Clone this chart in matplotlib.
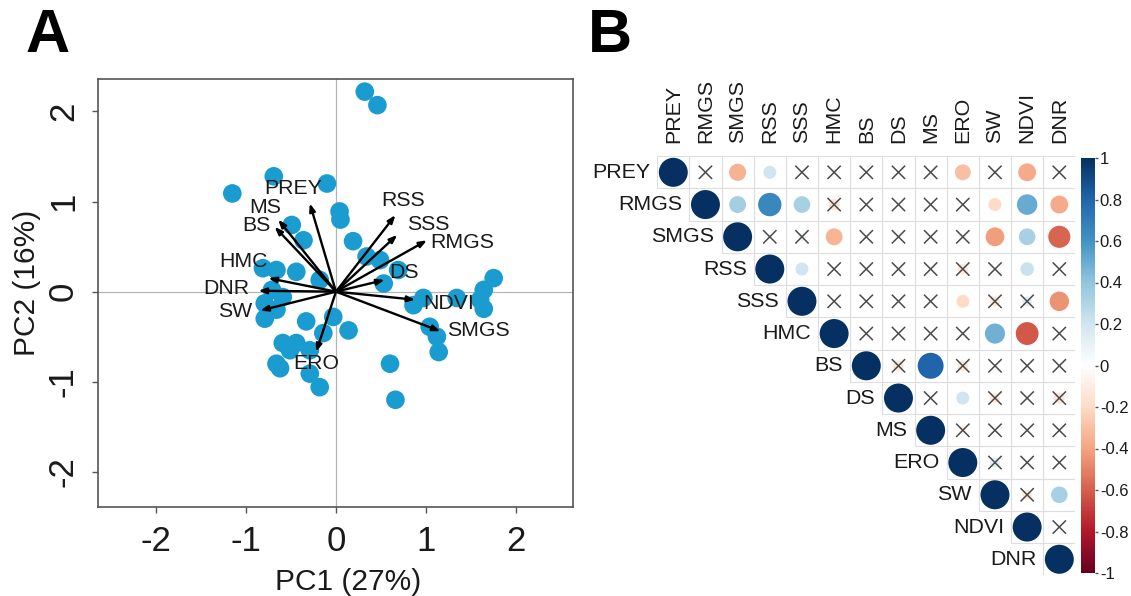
import numpy as np
import matplotlib
matplotlib.use('Agg')
import matplotlib.pyplot as plt
from matplotlib.colors import LinearSegmentedColormap, Normalize
from matplotlib.patches import Circle, Rectangle
from matplotlib.lines import Line2D
import matplotlib.cm as cm

plt.rcParams['font.family'] = ['Liberation Sans', 'DejaVu Sans']
plt.rcParams['axes.unicode_minus'] = False

# ---------------- Panel A data: PCA scores ----------------
pc1 = [0.32, 0.46, -1.15, -0.69, -0.10, 0.04, 0.05, -0.49, -0.36, 0.19,
       0.34, 0.49, 0.69, 0.53, -0.81, -0.66, -0.44, -0.18, -0.71, -0.59,
       -0.79, -0.66, -0.79, 1.75, 1.64, 1.60, 1.64, 1.34, 0.97, 0.86,
       1.04, 1.12, 1.14, -0.03, -0.33, -0.14, 0.14, -0.59, -0.44, -0.29,
       -0.66, -0.62, -0.29, -0.18, 0.60, 0.66, -0.51]
pc2 = [2.22, 2.07, 1.09, 1.28, 1.20, 0.89, 0.80, 0.74, 0.57, 0.56,
       0.39, 0.35, 0.24, 0.09, 0.26, 0.24, 0.22, 0.13, 0.02, -0.06,
       -0.13, -0.20, -0.30, 0.15, 0.02, -0.09, -0.19, -0.07, -0.07, -0.15,
       -0.39, -0.50, -0.67, -0.28, -0.33, -0.46, -0.43, -0.57, -0.57, -0.65,
       -0.80, -0.85, -0.91, -1.06, -0.80, -1.20, -0.65]

# loadings (arrow tips) and label positions
load_names = ['PREY', 'MS', 'BS', 'HMC', 'DNR', 'SW', 'ERO',
              'RSS', 'SSS', 'RMGS', 'DS', 'NDVI', 'SMGS']
load_x = [-0.29, -0.64, -0.68, -0.75, -0.86, -0.84, -0.22,
          0.66, 0.68, 1.01, 0.54, 0.88, 1.16]
load_y = [0.98, 0.80, 0.72, 0.15, 0.01, -0.21, -0.67,
          0.85, 0.63, 0.57, 0.13, -0.09, -0.44]
label_x = [-0.47, -0.78, -0.88, -1.03, -1.22, -1.12, -0.22,
           0.75, 1.02, 1.40, 0.76, 1.25, 1.585]
label_y = [1.15, 0.93, 0.73, 0.34, 0.04, -0.22, -0.80,
           1.01, 0.74, 0.54, 0.21, -0.13, -0.43]

xticks = [-2, -1, 0, 1, 2]
yticks = [-2, -1, 0, 1, 2]

# ---------------- Panel B data: correlation matrix (upper triangle) ----------------
variables = ['PREY', 'RMGS', 'SMGS', 'RSS', 'SSS', 'HMC', 'BS', 'DS',
             'MS', 'ERO', 'SW', 'NDVI', 'DNR']
corr_rows = [
    [1, 0.05, -0.35, 0.20, 0.02, 0.05, 0.0, 0.0, 0.0, -0.30, -0.05, -0.38, 0.0],
    [1, 0.34, 0.65, 0.33, -0.15, 0.0, 0.0, 0.0, 0.0, -0.20, 0.50, -0.38],
    [1, 0.02, 0.08, -0.34, 0.0, 0.0, 0.0, 0.06, -0.42, 0.33, -0.58],
    [1, 0.20, 0.0, 0.0, 0.0, 0.0, -0.13, 0.0, 0.22, 0.0],
    [1, 0.0, 0.0, 0.0, 0.0, -0.20, -0.12, 0.12, -0.45],
    [1, 0.0, 0.0, 0.0, 0.0, 0.48, -0.62, 0.0],
    [1, -0.14, 0.80, -0.14, 0.0, 0.0, 0.0],
    [1, 0.0, 0.20, -0.12, 0.0, -0.14],
    [1, -0.08, 0.0, 0.0, 0.0],
    [1, 0.12, 0.0, 0.0],
    [1, -0.12, 0.33],
    [1, 0.0],
    [1],
]
sig_rows = [
    [1, 0, 1, 1, 0, 0, 0, 0, 0, 1, 0, 1, 0],
    [1, 1, 1, 1, 0, 0, 0, 0, 0, 1, 1, 1],
    [1, 0, 0, 1, 0, 0, 0, 0, 1, 1, 1],
    [1, 1, 0, 0, 0, 0, 0, 0, 1, 0],
    [1, 0, 0, 0, 0, 1, 0, 0, 1],
    [1, 0, 0, 0, 0, 1, 1, 0],
    [1, 0, 1, 0, 0, 0, 0],
    [1, 0, 1, 0, 0, 0],
    [1, 0, 0, 0, 0],
    [1, 0, 0, 0],
    [1, 0, 1],
    [1, 0],
    [1],
]
cbar_ticks = [-1, -0.8, -0.6, -0.4, -0.2, 0, 0.2, 0.4, 0.6, 0.8, 1]
cbar_labels = ['-1', '-0.8', '-0.6', '-0.4', '-0.2', '0', '0.2', '0.4', '0.6', '0.8', '1']

# ---------------- figure ----------------
W, H = 1131, 596
fig = plt.figure(figsize=(W / 100, H / 100), dpi=100)

# ---- Panel A ----
axA = fig.add_axes([98 / W, 1 - 507 / H, 475 / W, 428 / H])
axA.set_xlim(-2.64, 2.63)
axA.set_ylim(-2.39, 2.36)
axA.axhline(0, color='#b5b5b5', lw=0.9, zorder=0)
axA.axvline(0, color='#b5b5b5', lw=0.9, zorder=0)
axA.scatter(pc1, pc2, s=180, color='#1A9CD0', edgecolors='none', zorder=2)
for n, x, y, lx, ly in zip(load_names, load_x, load_y, label_x, label_y):
    axA.annotate('', xy=(x, y), xytext=(0, 0),
                 arrowprops=dict(arrowstyle='-|>,head_length=0.45,head_width=0.17',
                                 color='black', lw=1.7, shrinkA=0, shrinkB=0),
                 zorder=3)
    axA.text(lx, ly, n, ha='center', va='center', fontsize=15.3,
             color='#1a1a1a', zorder=4)
for sp in axA.spines.values():
    sp.set_color('#555555')
    sp.set_linewidth(1.2)
axA.set_xticks(xticks)
axA.set_yticks(yticks)
axA.set_xticklabels([str(t) for t in xticks])
axA.set_yticklabels([str(t) for t in yticks], rotation=90, va='center')
axA.tick_params(direction='out', length=4, width=1, color='#555555',
                labelsize=25, labelcolor='#1a1a1a')
axA.tick_params(axis='x', pad=9)
axA.tick_params(axis='y', pad=9)

fig.text(348 / W, 1 - 590 / H, 'PC1 (27%)', ha='center', va='baseline',
         fontsize=21.5, color='#1a1a1a')
fig.text(27 / W, 1 - 283 / H, 'PC2 (16%)', ha='center', va='center',
         rotation=90, fontsize=21.5, color='#1a1a1a')

fig.text(48 / W, 1 - 52 / H, 'A', ha='center', va='baseline', fontsize=44,
         fontweight='bold')
fig.text(610 / W, 1 - 52 / H, 'B', ha='center', va='baseline', fontsize=44,
         fontweight='bold')

# ---- Panel B ----
cmap = LinearSegmentedColormap.from_list('corrRdBu', [
    '#67001F', '#B2182B', '#D6604D', '#F4A582', '#FDDBC7', '#FFFFFF',
    '#D1E5F0', '#92C5DE', '#4393C3', '#2166AC', '#053061'], N=256)
norm = Normalize(-1, 1)

axB = fig.add_axes([657.2 / W, 1 - 575.4 / H, 418.2 / W, 419.2 / H])
axB.set_xlim(0, 13)
axB.set_ylim(13, 0)
axB.axis('off')
n = len(variables)
for i in range(n):
    for k, (v, s) in enumerate(zip(corr_rows[i], sig_rows[i])):
        j = i + k
        axB.add_patch(Rectangle((j, i), 1, 1, fill=False, edgecolor='#dedede',
                                lw=0.8, zorder=1))
        cx, cy = j + 0.5, i + 0.5
        if v != 0:
            axB.add_patch(Circle((cx, cy), 0.45 * np.sqrt(abs(v)),
                                 facecolor=cmap(norm(v)), edgecolor='none',
                                 zorder=2))
        if not s:
            d = 0.19
            axB.add_line(Line2D([cx - d, cx + d], [cy - d, cy + d],
                                color='#4a4a4a', lw=1.1, zorder=3))
            axB.add_line(Line2D([cx - d, cx + d], [cy + d, cy - d],
                                color='#4a4a4a', lw=1.1, zorder=3))
    axB.text(i + 0.5 - 0.72, i + 0.5, variables[i], ha='right', va='center',
             fontsize=15.4, color='#1a1a1a', clip_on=False)
    axB.text(i + 0.5, -0.4, variables[i], ha='center', va='bottom',
             rotation=90, fontsize=15.4, color='#1a1a1a', clip_on=False)

cax = fig.add_axes([1081 / W, 1 - 573 / H, 14 / W, 415 / H])
cb = fig.colorbar(cm.ScalarMappable(norm=norm, cmap=cmap), cax=cax)
cb.outline.set_visible(False)
cb.set_ticks(cbar_ticks)
cb.set_ticklabels(cbar_labels)
cax.tick_params(labelsize=12, length=2.5, width=1, color='#555555', pad=1,
                labelcolor='#1a1a1a')

fig.savefig('out.png', dpi=100)
